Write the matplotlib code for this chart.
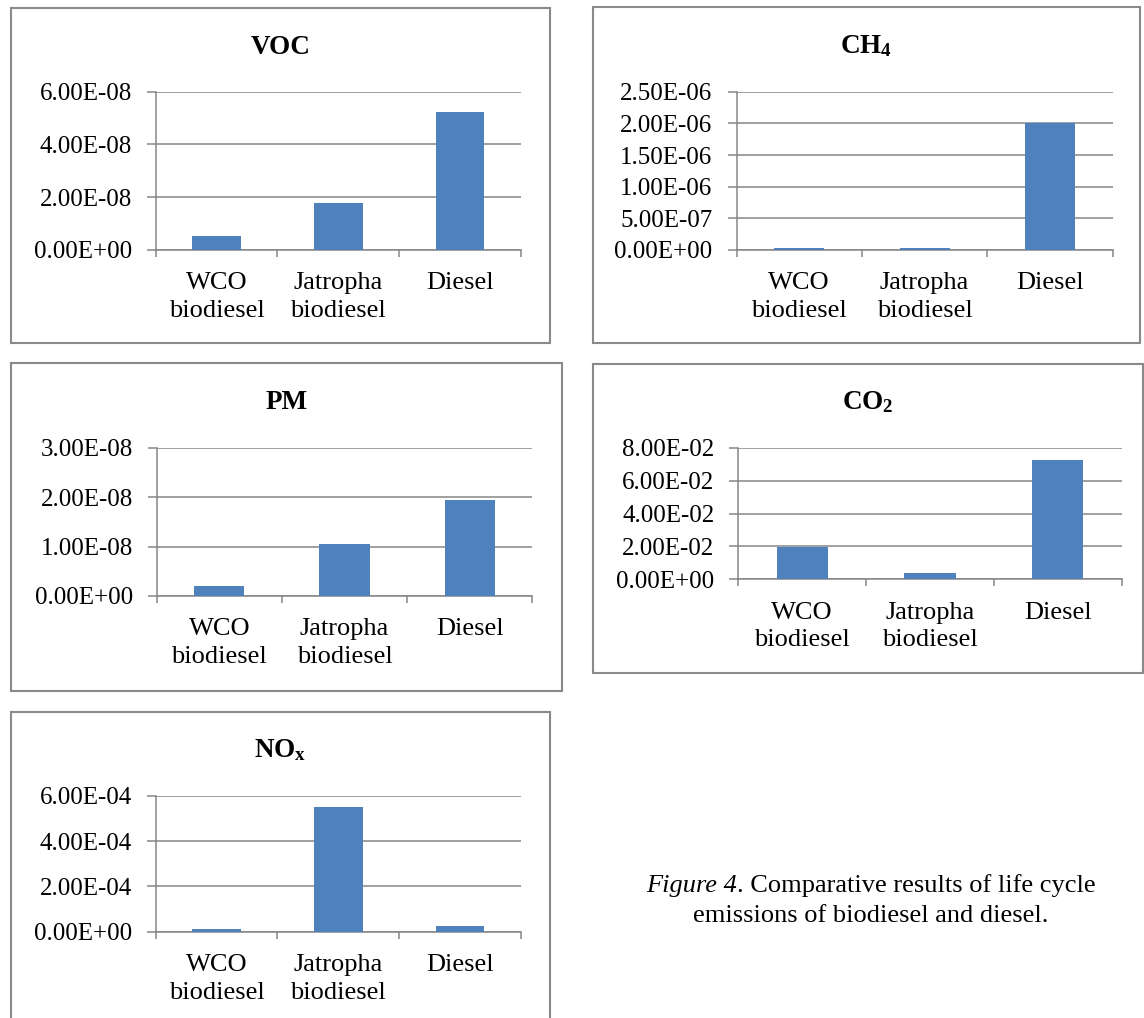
import matplotlib
matplotlib.use("Agg")
import matplotlib.pyplot as plt
from matplotlib.patches import Rectangle
from matplotlib.ticker import FixedLocator

plt.rcParams['font.family'] = ['Liberation Serif', 'DejaVu Serif']
plt.rcParams['mathtext.fontset'] = 'custom'
plt.rcParams['mathtext.rm'] = 'Liberation Serif'
plt.rcParams['mathtext.it'] = 'Liberation Serif:italic'
plt.rcParams['mathtext.bf'] = 'Liberation Serif:bold'

# ---------------- data ----------------
categories = ["WCO\nbiodiesel", "Jatropha\nbiodiesel", "Diesel"]

voc = [5.3e-9, 1.78e-8, 5.24e-8]
ch4 = [3.6e-8, 3.6e-8, 2.0e-6]
pm = [2.1e-9, 1.05e-8, 1.94e-8]
co2 = [1.98e-2, 4.0e-3, 7.27e-2]
nox = [1.0e-5, 5.49e-4, 2.5e-5]

voc_ticks = [0.0, 2e-8, 4e-8, 6e-8]
voc_ticklabels = ["0.00E+00", "2.00E-08", "4.00E-08", "6.00E-08"]
ch4_ticks = [0.0, 5e-7, 1e-6, 1.5e-6, 2e-6, 2.5e-6]
ch4_ticklabels = ["0.00E+00", "5.00E-07", "1.00E-06", "1.50E-06", "2.00E-06", "2.50E-06"]
pm_ticks = [0.0, 1e-8, 2e-8, 3e-8]
pm_ticklabels = ["0.00E+00", "1.00E-08", "2.00E-08", "3.00E-08"]
co2_ticks = [0.0, 2e-2, 4e-2, 6e-2, 8e-2]
co2_ticklabels = ["0.00E+00", "2.00E-02", "4.00E-02", "6.00E-02", "8.00E-02"]
nox_ticks = [0.0, 2e-4, 4e-4, 6e-4]
nox_ticklabels = ["0.00E+00", "2.00E-04", "4.00E-04", "6.00E-04"]

titles = ["VOC", r"$\mathbf{CH_4}$", "PM", r"$\mathbf{CO_2}$", r"$\mathbf{NO_x}$"]
caption_italic = "Figure 4"
caption_1 = ". Comparative results of life cycle"
caption_2 = "emissions of biodiesel and diesel."

# ---------------- layout ----------------
W, H = 1144, 1018
BAR = "#4F81BD"
GRAY = "#868686"
BOXC = "#8A8A8A"
TICK_FS = 18
CAT_FS = 19
TITLE_FS = 19.5
CAP_FS = 19

fig = plt.figure(figsize=(W / 100, H / 100), dpi=100)


def fx(x):
    return x / W


def fy(y):
    return 1 - y / H


panels = [
    # values, ticks, ticklabels, title, axes (l, t, r, b), box (l, t, r, b), title baseline
    (voc, voc_ticks, voc_ticklabels, titles[0], (155.7, 91.7, 520.7, 250), (11, 8, 550, 343), 53.5),
    (ch4, ch4_ticks, ch4_ticklabels, titles[1], (736.5, 91.7, 1112.7, 250), (592.7, 7, 1140, 343), 53.5),
    (pm, pm_ticks, pm_ticklabels, titles[2], (156.7, 447.7, 532.3, 596), (11, 363, 561.7, 691), 409),
    (co2, co2_ticks, co2_ticklabels, titles[3], (738.3, 447.7, 1121.7, 579.3), (592.7, 364, 1143, 673), 409),
    (nox, nox_ticks, nox_ticklabels, titles[4], (155.7, 795.7, 520.7, 931.7), (11, 712, 550, 1040), 757.5),
]

for vals, ticks, tlabels, title, (l, t, r, b), (bl, bt, br, bb), tyb in panels:
    # outer box
    fig.add_artist(Rectangle((fx(bl), fy(bb)), fx(br - bl), (bb - bt) / H,
                             transform=fig.transFigure, fill=False,
                             edgecolor=BOXC, linewidth=1.5, zorder=0))
    ax = fig.add_axes([fx(l), fy(b), fx(r - l), (b - t) / H])
    x = list(range(len(categories)))
    ax.bar(x, vals, width=0.4, color=BAR, zorder=3)
    ax.set_xlim(-0.5, len(categories) - 0.5)
    ax.set_ylim(ticks[0], ticks[-1])
    ax.yaxis.set_major_locator(FixedLocator(ticks))
    ax.set_yticklabels(tlabels)
    ax.set_xticks(x)
    ax.set_xticklabels(categories)
    for lbl in ax.get_xticklabels():
        lbl.set_linespacing(1.35)
    ax.set_xticks([i - 0.5 for i in range(len(categories) + 1)], minor=True)
    ax.tick_params(axis='x', which='major', length=0, pad=16, labelsize=CAT_FS)
    ax.tick_params(axis='x', which='minor', length=5.3, width=1.1, color=GRAY, direction='out')
    ax.tick_params(axis='y', which='major', length=6.5, width=1.1, color=GRAY,
                   direction='out', pad=10.8, labelsize=TICK_FS)
    ax.grid(axis='y', color=GRAY, linewidth=1.1, zorder=0)
    ax.set_axisbelow(True)
    for s in ('top', 'right'):
        ax.spines[s].set_visible(False)
    for s in ('left', 'bottom'):
        ax.spines[s].set_color(GRAY)
        ax.spines[s].set_linewidth(1.1)
    ax.patch.set_visible(False)
    fig.text(fx((bl + br) / 2), fy(tyb), title, ha='center', va='baseline',
             fontsize=TITLE_FS, fontweight='bold')

# caption: italic part + upright part, centred together
renderer = fig.canvas.get_renderer()
cx = 871
ti = fig.text(0, fy(891.7), caption_italic, ha='left', va='baseline',
              fontsize=CAP_FS, style='italic')
tu = fig.text(0, fy(891.7), caption_1, ha='left', va='baseline', fontsize=CAP_FS)
wi = ti.get_window_extent(renderer).width
wu = tu.get_window_extent(renderer).width
x0 = cx - (wi + wu) / 2
ti.set_x(fx(x0))
tu.set_x(fx(x0 + wi))
fig.text(fx(cx), fy(921.7), caption_2, ha='center', va='baseline', fontsize=CAP_FS)

fig.savefig("out.png", dpi=100, facecolor='white')
